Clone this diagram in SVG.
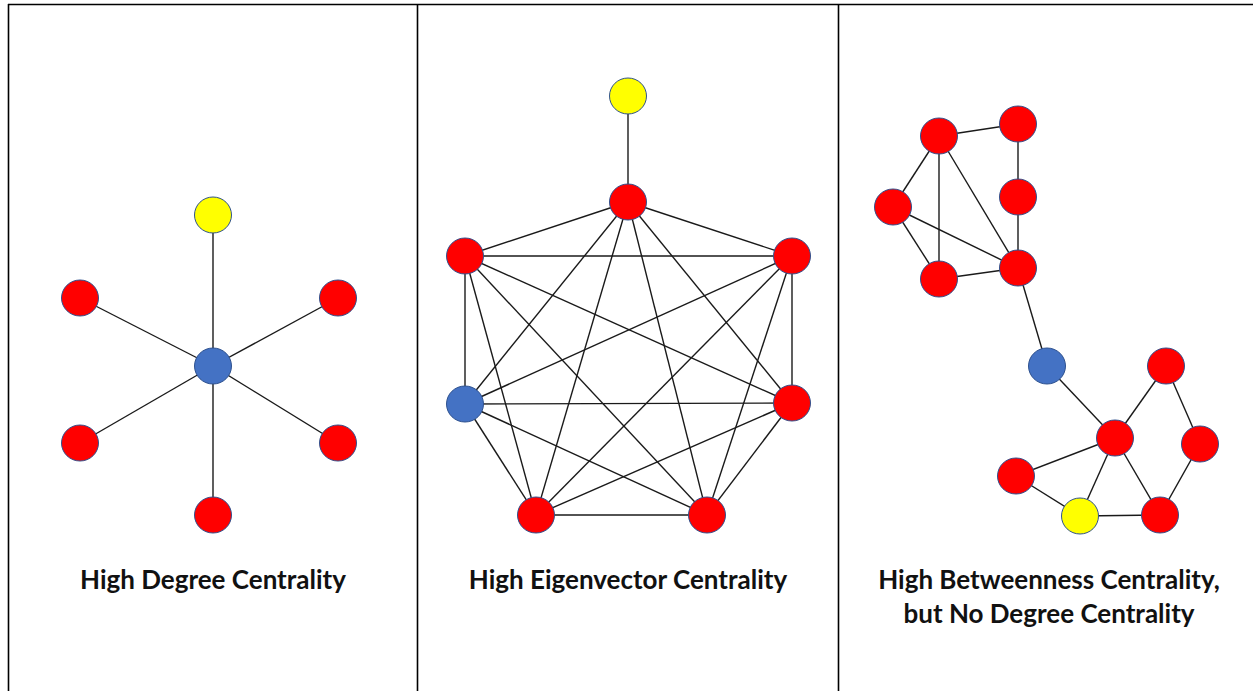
<svg xmlns="http://www.w3.org/2000/svg" width="1253" height="691" viewBox="0 0 1253 691">
  <style>
    .frame { stroke: #000; stroke-width: 1.6; fill: none; }
    .edge { stroke: #1a1a1a; stroke-width: 1.4; fill: none; }
    .node { stroke: #2F528F; stroke-width: 1; }
    .red { fill: #FF0000; }
    .yellow { fill: #FFFF00; }
    .blue { fill: #4472C4; }
    .caption { font-family: Lato, "Liberation Sans", sans-serif; font-weight: bold; font-size: 26px; fill: #111; text-anchor: middle; }
  </style>
  <rect width="1253" height="691" fill="#fff"/>

  <!-- panel frame -->
  <g id="frame">
    <line class="frame" x1="8" y1="4.5" x2="1253" y2="4.5"/>
    <line class="frame" x1="8.5" y1="4" x2="8.5" y2="691"/>
    <line class="frame" x1="417.5" y1="4" x2="417.5" y2="691"/>
    <line class="frame" x1="838.5" y1="4" x2="838.5" y2="691"/>
  </g>

  <!-- connectors -->
  <g id="connectors">
    <!-- star -->
    <line class="edge" x1="213" y1="215" x2="213" y2="366"/>
    <line class="edge" x1="80" y1="298" x2="213" y2="366"/>
    <line class="edge" x1="338" y1="298" x2="213" y2="366"/>
    <line class="edge" x1="80" y1="443" x2="213" y2="366"/>
    <line class="edge" x1="338" y1="443" x2="213" y2="366"/>
    <line class="edge" x1="213" y1="515" x2="213" y2="366"/>

    <!-- complete graph on seven nodes plus pendant -->
    <line class="edge" x1="628" y1="96" x2="628" y2="202"/>
    <line class="edge" x1="628" y1="202" x2="465" y2="256"/>
    <line class="edge" x1="628" y1="202" x2="792" y2="256"/>
    <line class="edge" x1="628" y1="202" x2="465" y2="404"/>
    <line class="edge" x1="628" y1="202" x2="792" y2="403"/>
    <line class="edge" x1="628" y1="202" x2="536" y2="515"/>
    <line class="edge" x1="628" y1="202" x2="707" y2="515"/>
    <line class="edge" x1="465" y1="256" x2="792" y2="256"/>
    <line class="edge" x1="465" y1="256" x2="465" y2="404"/>
    <line class="edge" x1="465" y1="256" x2="792" y2="403"/>
    <line class="edge" x1="465" y1="256" x2="536" y2="515"/>
    <line class="edge" x1="465" y1="256" x2="707" y2="515"/>
    <line class="edge" x1="792" y1="256" x2="465" y2="404"/>
    <line class="edge" x1="792" y1="256" x2="792" y2="403"/>
    <line class="edge" x1="792" y1="256" x2="536" y2="515"/>
    <line class="edge" x1="792" y1="256" x2="707" y2="515"/>
    <line class="edge" x1="465" y1="404" x2="792" y2="403"/>
    <line class="edge" x1="465" y1="404" x2="536" y2="515"/>
    <line class="edge" x1="465" y1="404" x2="707" y2="515"/>
    <line class="edge" x1="792" y1="403" x2="536" y2="515"/>
    <line class="edge" x1="792" y1="403" x2="707" y2="515"/>
    <line class="edge" x1="536" y1="515" x2="707" y2="515"/>

    <!-- bridge graph -->
    <line class="edge" x1="939" y1="136" x2="1018" y2="124"/>
    <line class="edge" x1="1018" y1="124" x2="1018" y2="197"/>
    <line class="edge" x1="1018" y1="197" x2="1018" y2="268"/>
    <line class="edge" x1="939" y1="136" x2="893" y2="207"/>
    <line class="edge" x1="939" y1="136" x2="939" y2="279"/>
    <line class="edge" x1="939" y1="136" x2="1018" y2="268"/>
    <line class="edge" x1="893" y1="207" x2="939" y2="279"/>
    <line class="edge" x1="893" y1="207" x2="1018" y2="268"/>
    <line class="edge" x1="939" y1="279" x2="1018" y2="268"/>
    <line class="edge" x1="1018" y1="268" x2="1047" y2="366"/>
    <line class="edge" x1="1047" y1="366" x2="1115" y2="438"/>
    <line class="edge" x1="1115" y1="438" x2="1166" y2="366"/>
    <line class="edge" x1="1166" y1="366" x2="1200" y2="444"/>
    <line class="edge" x1="1200" y1="444" x2="1160" y2="515"/>
    <line class="edge" x1="1115" y1="438" x2="1160" y2="515"/>
    <line class="edge" x1="1115" y1="438" x2="1016" y2="476"/>
    <line class="edge" x1="1115" y1="438" x2="1080" y2="516"/>
    <line class="edge" x1="1016" y1="476" x2="1080" y2="516"/>
    <line class="edge" x1="1080" y1="516" x2="1160" y2="515"/>
  </g>

  <!-- degree panel nodes -->
  <g id="deg-top"><ellipse class="node yellow" cx="213" cy="215" rx="18.5" ry="18"/></g>
  <g id="deg-ul"><ellipse class="node red" cx="80" cy="298" rx="18.5" ry="18"/></g>
  <g id="deg-ur"><ellipse class="node red" cx="338" cy="298" rx="18.5" ry="18"/></g>
  <g id="deg-hub"><ellipse class="node blue" cx="213" cy="366" rx="18.5" ry="18"/></g>
  <g id="deg-ll"><ellipse class="node red" cx="80" cy="443" rx="18.5" ry="18"/></g>
  <g id="deg-lr"><ellipse class="node red" cx="338" cy="443" rx="18.5" ry="18"/></g>
  <g id="deg-bottom"><ellipse class="node red" cx="213" cy="515" rx="18.5" ry="18"/></g>

  <!-- eigenvector panel nodes -->
  <g id="eig-pendant"><ellipse class="node yellow" cx="628" cy="96" rx="18.5" ry="18"/></g>
  <g id="eig-top"><ellipse class="node red" cx="628" cy="202" rx="18.5" ry="18"/></g>
  <g id="eig-ul"><ellipse class="node red" cx="465" cy="256" rx="18.5" ry="18"/></g>
  <g id="eig-ur"><ellipse class="node red" cx="792" cy="256" rx="18.5" ry="18"/></g>
  <g id="eig-ml"><ellipse class="node blue" cx="465" cy="404" rx="18.5" ry="18"/></g>
  <g id="eig-mr"><ellipse class="node red" cx="792" cy="403" rx="18.5" ry="18"/></g>
  <g id="eig-bl"><ellipse class="node red" cx="536" cy="515" rx="18.5" ry="18"/></g>
  <g id="eig-br"><ellipse class="node red" cx="707" cy="515" rx="18.5" ry="18"/></g>

  <!-- betweenness panel nodes -->
  <g id="btw-a"><ellipse class="node red" cx="939" cy="136" rx="18.5" ry="18"/></g>
  <g id="btw-b"><ellipse class="node red" cx="1018" cy="124" rx="18.5" ry="18"/></g>
  <g id="btw-c"><ellipse class="node red" cx="893" cy="207" rx="18.5" ry="18"/></g>
  <g id="btw-d"><ellipse class="node red" cx="1018" cy="197" rx="18.5" ry="18"/></g>
  <g id="btw-e"><ellipse class="node red" cx="939" cy="279" rx="18.5" ry="18"/></g>
  <g id="btw-f"><ellipse class="node red" cx="1018" cy="268" rx="18.5" ry="18"/></g>
  <g id="btw-bridge"><ellipse class="node blue" cx="1047" cy="366" rx="18.5" ry="18"/></g>
  <g id="btw-h"><ellipse class="node red" cx="1166" cy="366" rx="18.5" ry="18"/></g>
  <g id="btw-i"><ellipse class="node red" cx="1115" cy="438" rx="18.5" ry="18"/></g>
  <g id="btw-j"><ellipse class="node red" cx="1200" cy="444" rx="18.5" ry="18"/></g>
  <g id="btw-k"><ellipse class="node red" cx="1016" cy="476" rx="18.5" ry="18"/></g>
  <g id="btw-l"><ellipse class="node yellow" cx="1080" cy="516" rx="18.5" ry="18"/></g>
  <g id="btw-m"><ellipse class="node red" cx="1160" cy="515" rx="18.5" ry="18"/></g>

  <!-- captions -->
  <g id="captions">
    <text class="caption" x="213" y="589">High Degree Centrality</text>
    <text class="caption" x="628" y="589">High Eigenvector Centrality</text>
    <text class="caption" x="1049" y="589">High Betweenness Centrality,</text>
    <text class="caption" x="1049" y="623">but No Degree Centrality</text>
  </g>
</svg>
